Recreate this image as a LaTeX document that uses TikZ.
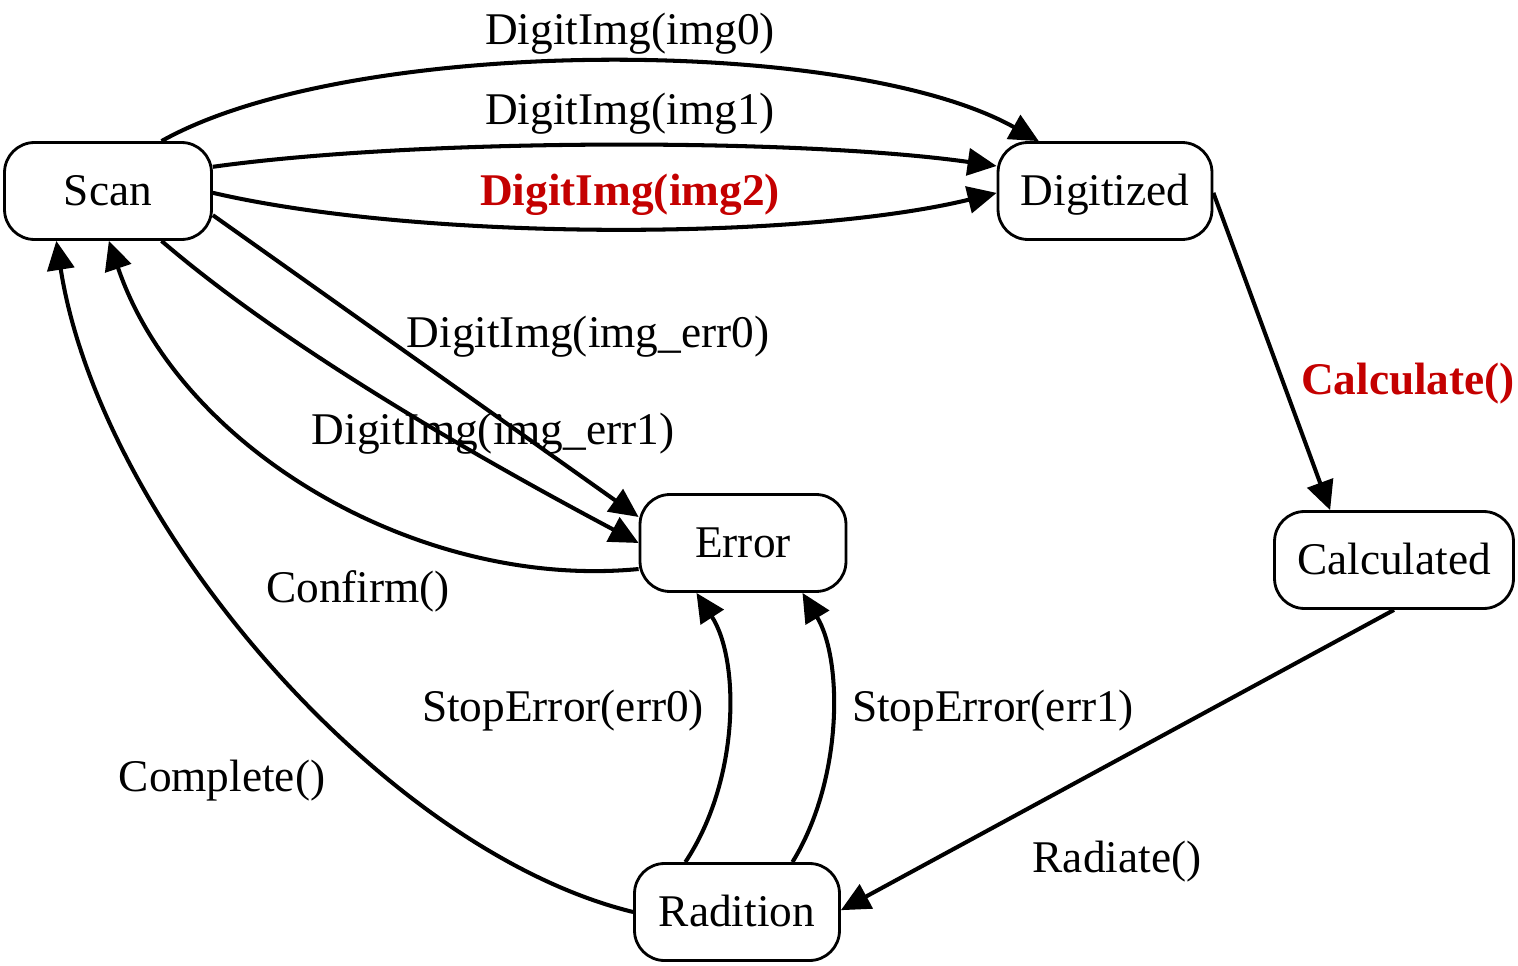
\documentclass[tikz,border=0pt]{standalone}
\usepackage{fontspec}
\setmainfont{Liberation Serif}
\usetikzlibrary{arrows.meta}
\definecolor{rojo}{RGB}{196,0,0}
\begin{document}
\begin{tikzpicture}[x=0.02cm, y=-0.02cm,
  estado/.style={draw, line width=1.6pt, rounded corners=0.6cm, minimum height=1.94cm, inner sep=0pt, text height=17pt, text depth=0pt, font=\fontsize{25.8}{30}\selectfont},
  trans/.style={-{Triangle[length=0.58cm, width=0.54cm]}, line width=2.3pt},
  etiq/.style={inner sep=0pt, text height=17pt, text depth=0pt, font=\fontsize{25.8}{30}\selectfont},
  clave/.style={etiq, text=rojo, font=\fontsize{25.8}{30}\selectfont\bfseries}]
  \useasboundingbox (0,0) rectangle (1518,966);
  \node[estado, minimum width=4.14cm] (scan) at (108,191) {Scan};
  \node[estado, minimum width=4.28cm] (dig) at (1105,191) {Digitized};
  \node[estado, minimum width=4.12cm] (err) at (743,543) {Error};
  \node[estado, minimum width=4.78cm] (calc) at (1394,560) {Calculated};
  \node[estado, minimum width=4.10cm] (rad) at (737,912) {Radition};
  \node[etiq] (img0) at (630,30) {DigitImg(img0)};
  \node[etiq] (img1) at (630,110) {DigitImg(img1)};
  \node[clave] (img2) at (630,191) {DigitImg(img2)};
  \node[etiq] (err0) at (588,333) {DigitImg(img\_err0)};
  \node[etiq] (err1) at (493,430) {DigitImg(img\_err1)};
  \node[etiq] (conf) at (358,588) {Confirm()};
  \node[clave] (calcl) at (1408,380) {Calculate()};
  \node[etiq] (radl) at (1117,858) {Radiate()};
  \node[etiq] (stop0) at (563,707) {StopError(err0)};
  \node[etiq] (stop1) at (993,707) {StopError(err1)};
  \node[etiq] (comp) at (222,777) {Complete()};
  \draw[trans] (scan.43) .. controls (350,35) and (850,35) .. (dig.143);
  \draw[trans] (scan.13) .. controls (420,138) and (800,138) .. (dig.167);
  \draw[trans] (scan.-1) .. controls (420,241) and (800,241) .. (dig.-179);
  \draw[trans] (scan.-13) -- (err.166);
  \draw[trans] (scan.-43) .. controls (300,360) and (520,480) .. (err.180);
  \draw[trans] (err.-166) .. controls (420,590) and (180,450) .. (scan.-89);
  \draw[trans] (dig.-1) -- (calc.142);
  \draw[trans] (calc.-90) -- (rad.1);
  \draw[trans] (rad.136) .. controls (740,780) and (740,660) .. (err.-133);
  \draw[trans] (rad.42) .. controls (843,780) and (843,660) .. (err.-40);
  \draw[trans] (rad.180) .. controls (380,850) and (100,520) .. (scan.-136);
\end{tikzpicture}
\end{document}
